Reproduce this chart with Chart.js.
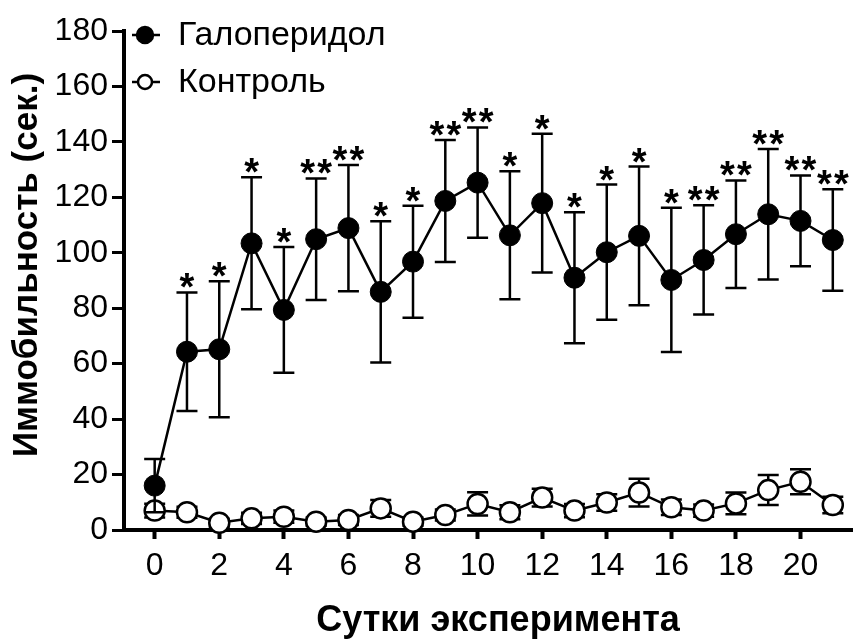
<!DOCTYPE html>
<html>
<head>
<meta charset="utf-8">
<script src="https://cdn.jsdelivr.net/npm/chart.js@4.4.1/dist/chart.umd.min.js"></script>
<style>
  html, body { margin: 0; padding: 0; background: #fff; }
  #wrap { width: 865px; height: 639px; }
</style>
</head>
<body>
<div id="wrap"><canvas id="chart" width="865" height="639"></canvas></div>
<script>
// days of the experiment
const days = [0, 1, 2, 3, 4, 5, 6, 7, 8, 9, 10, 11, 12, 13, 14, 15, 16, 17, 18, 19, 20, 21];

// haloperidol group: mean and error
const haloMean = [16.0, 64.3, 65.2, 103.4, 79.4, 104.9, 108.9, 85.9, 96.8, 118.7, 125.3,
  106.3, 117.9, 91.0, 100.2, 106.1, 90.2, 97.4, 106.7, 113.9, 111.5, 104.6];
const haloErr = [9.6, 21.4, 24.5, 23.8, 22.7, 21.9, 22.8, 25.5, 20.2, 22.0, 19.9,
  23.1, 25.0, 23.6, 24.4, 25.0, 26.0, 19.7, 19.4, 23.5, 16.4, 18.3];

// control group
const ctrlMean = [7.0, 6.4, 2.6, 4.2, 4.8, 3.0, 3.6, 7.8, 3.0, 5.4, 9.4,
  6.4, 11.7, 7.0, 9.9, 13.5, 8.2, 7.0, 9.6, 14.4, 17.4, 9.0];
const ctrlErr = [2.5, 2.0, 1.5, 2.0, 2.2, 1.5, 1.8, 3.0, 1.5, 2.0, 4.2,
  2.5, 3.2, 2.4, 3.0, 5.0, 2.8, 2.2, 3.9, 5.4, 4.5, 3.0];

// significance marks above haloperidol points
const sigMarks = ['', '*', '*', '*', '*', '**', '**', '*', '*', '**', '**',
  '*', '*', '*', '*', '*', '*', '**', '**', '**', '**', '**'];

const seriesNames = ['Галоперидол', 'Контроль'];
const xTicks = [0, 2, 4, 6, 8, 10, 12, 14, 16, 18, 20];
const yTicks = [0, 20, 40, 60, 80, 100, 120, 140, 160, 180];
const xTitle = 'Сутки эксперимента';
const yTitle = 'Иммобильность (сек.)';

const FONT = '"Liberation Sans", Arial, sans-serif';

function toPoints(values) {
    return values.map((v, i) => ({ x: days[i], y: v }));
}

// error bars are drawn right before each dataset, so markers cover them
const errorBars = {
    id: 'errorBars',
    beforeDatasetDraw(chart, args) {
        const ds = chart.data.datasets[args.index];
        const yScale = chart.scales.y;
        const ctx = chart.ctx;
        ctx.save();
        ctx.strokeStyle = '#000';
        ctx.lineWidth = 2.5;
        args.meta.data.forEach((pt, i) => {
            const v = ds.data[i].y;
            const top = yScale.getPixelForValue(v + ds.errors[i]);
            const bot = yScale.getPixelForValue(v - ds.errors[i]);
            ctx.beginPath();
            ctx.moveTo(pt.x, top);
            ctx.lineTo(pt.x, bot);
            ctx.moveTo(pt.x - 10.5, top);
            ctx.lineTo(pt.x + 10.5, top);
            ctx.moveTo(pt.x - 10.5, bot);
            ctx.lineTo(pt.x + 10.5, bot);
            ctx.stroke();
        });
        ctx.restore();
    }
};

const extras = {
    id: 'extras',
    afterDraw(chart) {
        const ctx = chart.ctx;
        const xScale = chart.scales.x;
        const yScale = chart.scales.y;
        ctx.save();
        ctx.fillStyle = '#000';

        // asterisks
        ctx.font = 'bold 38px ' + FONT;
        ctx.textAlign = 'center';
        ctx.textBaseline = 'alphabetic';
        const desc = ctx.measureText('*').actualBoundingBoxDescent;
        sigMarks.forEach((m, i) => {
            if (!m) return;
            const px = xScale.getPixelForValue(days[i]);
            const capY = yScale.getPixelForValue(haloMean[i] + haloErr[i]);
            const base = capY - 4 - desc;
            if (m === '*') {
                ctx.fillText('*', px, base);
            } else {
                ctx.fillText('*', px - 8.5, base);
                ctx.fillText('*', px + 8.5, base);
            }
        });

        // legend
        const legendY = [35, 82];
        ctx.font = '34px ' + FONT;
        ctx.textAlign = 'left';
        ctx.textBaseline = 'middle';
        seriesNames.forEach((name, k) => {
            const y = legendY[k];
            ctx.strokeStyle = '#000';
            ctx.lineWidth = 2.5;
            ctx.beginPath();
            ctx.moveTo(132, y);
            ctx.lineTo(160, y);
            ctx.stroke();
            ctx.beginPath();
            ctx.arc(145, y, k === 0 ? 8 : 7, 0, Math.PI * 2);
            ctx.fillStyle = k === 0 ? '#000' : '#fff';
            ctx.fill();
            ctx.stroke();
            ctx.fillStyle = '#000';
            ctx.fillText(name, 178, y + 1);
        });

        // axis titles
        ctx.font = 'bold 36px ' + FONT;
        ctx.textAlign = 'center';
        ctx.textBaseline = 'middle';
        ctx.fillText(xTitle, 498, 621);
        ctx.font = 'bold 35px ' + FONT;
        ctx.translate(27, 265);
        ctx.rotate(-Math.PI / 2);
        ctx.fillText(yTitle, 0, 0);
        ctx.restore();
    }
};

new Chart(document.getElementById('chart'), {
    type: 'line',
    data: {
        datasets: [{
            label: seriesNames[0],
            data: toPoints(haloMean),
            errors: haloErr,
            borderColor: '#000',
            borderWidth: 2.5,
            pointRadius: 10.5,
            pointBackgroundColor: '#000',
            pointBorderColor: '#000',
            pointBorderWidth: 1,
            tension: 0,
            clip: false
        }, {
            label: seriesNames[1],
            data: toPoints(ctrlMean),
            errors: ctrlErr,
            borderColor: '#000',
            borderWidth: 2.5,
            pointRadius: 10,
            pointBackgroundColor: '#fff',
            pointBorderColor: '#000',
            pointBorderWidth: 2.5,
            tension: 0,
            clip: false
        }]
    },
    options: {
        responsive: false,
        animation: false,
        events: [],
        layout: { padding: { top: 31, right: 0, bottom: 0, left: 0 } },
        plugins: { legend: { display: false }, tooltip: { enabled: false } },
        scales: {
            x: {
                type: 'linear',
                min: -0.95,
                max: 21.61,
                afterBuildTicks: s => { s.ticks = xTicks.map(v => ({ value: v })); },
                afterFit: s => { s.height = 109; },
                ticks: { color: '#000', font: { family: FONT, size: 32 }, padding: 8, autoSkip: false, maxRotation: 0 },
                grid: { display: true, drawOnChartArea: false, drawTicks: true, tickLength: 9, tickWidth: 4, tickColor: '#000' },
                border: { display: true, width: 4, color: '#000' }
            },
            y: {
                min: 0,
                max: 180,
                afterBuildTicks: s => { s.ticks = yTicks.map(v => ({ value: v })); },
                afterFit: s => { s.width = 124; },
                ticks: { color: '#000', font: { family: FONT, size: 32 }, padding: 4 },
                grid: { display: true, drawOnChartArea: false, drawTicks: true, tickLength: 12, tickWidth: 3, tickColor: '#000' },
                border: { display: true, width: 4, color: '#000' }
            }
        }
    },
    plugins: [errorBars, extras]
});
</script>
</body>
</html>
